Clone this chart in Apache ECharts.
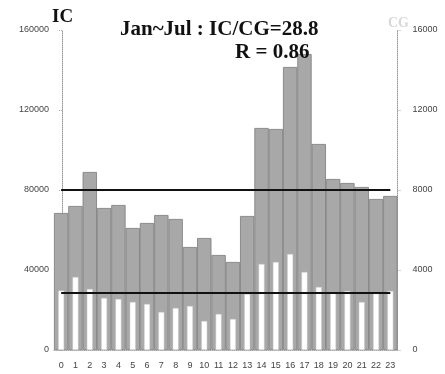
<!DOCTYPE html>
<html>
<head>
<meta charset="utf-8">
<script src="https://cdn.jsdelivr.net/npm/echarts@6/dist/echarts.min.js"></script>
<style>
html,body{margin:0;padding:0;background:#fff;}
#chart{width:445px;height:374px;}
</style>
</head>
<body>
<div id="chart"></div>
<script>
// Data
var hours = ['0','1','2','3','4','5','6','7','8','9','10','11','12','13','14','15','16','17','18','19','20','21','22','23'];
var icCounts = [68500,72000,89000,71000,72500,61000,63500,67500,65500,51500,56000,47500,44000,67000,111000,110500,141500,148000,103000,85500,83500,81500,75500,77000];
var cgCounts = [2970,3650,3050,2600,2550,2400,2300,1900,2100,2200,1450,1800,1550,2800,4300,4400,4800,3900,3150,2850,2950,2400,2850,2950];
var icMean = 80000;
var cgMean = 2850;
var leftTicks = [0, 40000, 80000, 120000, 160000];
var rightTicks = [0, 4000, 8000, 12000, 16000];
var titleLine1 = 'Jan~Jul : IC/CG=28.8';
var titleLine2 = 'R = 0.86';

var chart = echarts.init(document.getElementById('chart'), null, {renderer: 'canvas'});
var labelFont = {fontFamily: 'Liberation Sans', fontSize: 9, color: '#444'};
function plain(v) { return String(v); }
var option = {
  animation: false,
  backgroundColor: '#fff',
  grid: {left: 54, right: 47.5, top: 30, bottom: 24, containLabel: false},
  xAxis: [
    {type: 'category', data: hours, gridIndex: 0,
     axisLine: {show: true, lineStyle: {color: '#aaa', type: 'dotted', width: 1}},
     axisTick: {show: false},
     axisLabel: Object.assign({interval: 0, margin: 11}, labelFont),
     splitLine: {show: false}},
    {type: 'category', data: hours, gridIndex: 0, show: false}
  ],
  yAxis: [
    {type: 'value', min: leftTicks[0], max: leftTicks[leftTicks.length-1], interval: leftTicks[1]-leftTicks[0],
     position: 'left', offset: -8,
     axisLine: {show: true, lineStyle: {color: '#999', type: 'dotted', width: 1}},
     axisTick: {show: true, length: 4, lineStyle: {color: '#aaa', type: 'dotted'}},
     axisLabel: Object.assign({margin: 13, formatter: plain}, labelFont),
     splitLine: {show: false}},
    {type: 'value', min: rightTicks[0], max: rightTicks[rightTicks.length-1], interval: rightTicks[1]-rightTicks[0],
     position: 'right',
     axisLine: {show: true, lineStyle: {color: '#999', type: 'dotted', width: 1}},
     axisTick: {show: true, length: 4, lineStyle: {color: '#aaa', type: 'dotted'}},
     axisLabel: Object.assign({margin: 15, formatter: plain}, labelFont),
     splitLine: {show: false}}
  ],
  series: [
    {type: 'bar', name: 'IC', data: icCounts, xAxisIndex: 0, yAxisIndex: 0,
     barWidth: '100%', barCategoryGap: 0,
     itemStyle: {color: '#a8a8a8', borderColor: '#7a7a7a', borderWidth: 0.8},
     markLine: {silent: true, symbol: ['none','none'], label: {show: false},
       lineStyle: {color: '#111', width: 2, type: 'solid'},
       data: [[{coord: [0, icMean]}, {coord: [23, icMean]}]]}},
    {type: 'bar', name: 'CG', data: cgCounts, xAxisIndex: 1, yAxisIndex: 1,
     barWidth: 6, z: 3,
     itemStyle: {color: '#ffffff', borderColor: '#c8c8c8', borderWidth: 0.5},
     markLine: {silent: true, symbol: ['none','none'], label: {show: false}, z: 5,
       lineStyle: {color: '#111', width: 2, type: 'solid'},
       data: [[{coord: [0, cgMean]}, {coord: [23, cgMean]}]]}}
  ],
  graphic: [
    {type: 'text', left: 52, top: 8, z: 10,
     style: {text: 'IC', font: 'bold 19px "Liberation Serif"', fill: '#111'}},
    {type: 'text', left: 120, top: 19, z: 10,
     style: {text: titleLine1, font: 'bold 21px "Liberation Serif"', fill: '#111'}},
    {type: 'text', left: 235, top: 42, z: 10,
     style: {text: titleLine2, font: 'bold 21px "Liberation Serif"', fill: '#111'}},
    {type: 'text', left: 388, top: 16, z: 10,
     style: {text: 'CG', font: 'bold 14px "Liberation Serif"', fill: '#d8d8d8'}}
  ]
};
chart.setOption(option);
</script>
</body>
</html>
